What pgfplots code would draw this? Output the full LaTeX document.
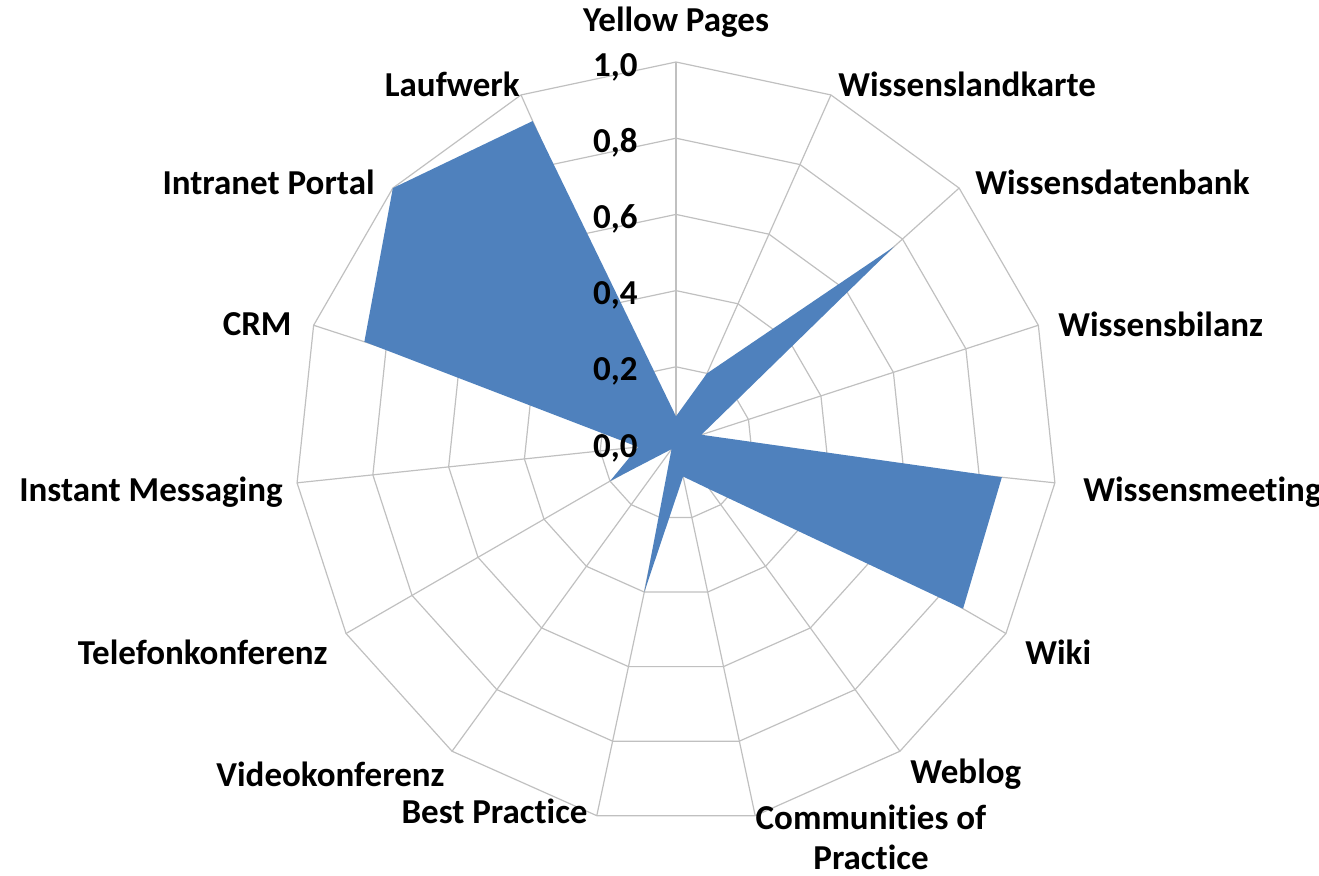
\documentclass[border=0pt]{standalone}
\usepackage{pgfplots}
\pgfplotsset{compat=1.18}
\usepgfplotslibrary{polar}
\usepackage{fontspec}
\setmainfont{Carlito}[Ligatures=NoCommon]
\definecolor{barblue}{RGB}{79,129,189}
\definecolor{gridgray}{RGB}{192,192,192}

\begin{document}
\begin{tikzpicture}[font=\fontsize{17.5}{20}\selectfont\bfseries]
\path[use as bounding box] (-338pt,-216pt) rectangle (321.5pt,221.5pt);
\begin{polaraxis}[
  at={(0,0)}, anchor=center,
  scale only axis, width=381pt, height=381pt,
  xmin=0, xmax=360, ymin=0, ymax=1,
  hide axis, clip=false]
% polygonal grid rings
\pgfplotsinvokeforeach{0.2,0.4,0.6,0.8,1.0}{
  \addplot[gridgray, line width=0.6pt, no marks] coordinates {(90,#1) (66,#1) (42,#1) (18,#1) (354,#1) (330,#1) (306,#1) (282,#1) (258,#1) (234,#1) (210,#1) (186,#1) (162,#1) (138,#1) (114,#1) (90,#1)};
}
% spokes
\pgfplotsinvokeforeach{90,66,42,18,354,330,306,282,258,234,210,186,162,138,114}{
  \addplot[gridgray, line width=0.6pt, no marks] coordinates {(#1,0) (#1,1)};
}
% data
\addplot[fill=barblue, draw=none, no marks] coordinates {
 (90,0.07)   % Yellow Pages
 (66,0.20)   % Wissenslandkarte
 (42,0.77)   % Wissensdatenbank
 (18,0.07)   % Wissensbilanz
 (354,0.86)  % Wissensmeeting
 (330,0.87)  % Wiki
 (306,0.15)  % Weblog
 (282,0.09)  % Communities of Practice
 (258,0.40)  % Best Practice
 (234,0.02)  % Videokonferenz
 (210,0.20)  % Telefonkonferenz
 (186,0.10)  % Instant Messaging
 (162,0.86)  % CRM
 (138,1.00)  % Intranet Portal
 (114,0.925) % Laufwerk
 (90,0.07)
};
% radial value labels
\begin{scope}[every node/.style={anchor=east, inner sep=0pt, xshift=-19pt, yshift=-2.5pt}]
\node at (axis cs:90,0.0) {0,0};
\node at (axis cs:90,0.2) {0,2};
\node at (axis cs:90,0.4) {0,4};
\node at (axis cs:90,0.6) {0,6};
\node at (axis cs:90,0.8) {0,8};
\node at (axis cs:90,1.0) {1,0};
\end{scope}
\end{polaraxis}
\begin{scope}[every node/.style={inner sep=0pt}]
\node[anchor=center] at (0pt,210.5pt) {Yellow Pages};
\node[anchor=east] at (-78pt,179.5pt) {Laufwerk};
\node[anchor=west] at (81pt,179.5pt) {Wissenslandkarte};
\node[anchor=east] at (-150.5pt,130.5pt) {Intranet Portal};
\node[anchor=west] at (149.5pt,130.5pt) {Wissensdatenbank};
\node[anchor=east] at (-192pt,59.5pt) {CRM};
\node[anchor=west] at (191pt,59.5pt) {Wissensbilanz};
\node[anchor=east] at (-196.5pt,-24.5pt) {Instant Messaging};
\node[anchor=west] at (203.5pt,-24.5pt) {Wissensmeeting};
\node[anchor=east] at (-174pt,-104.5pt) {Telefonkonferenz};
\node[anchor=west] at (174.5pt,-104.5pt) {Wiki};
\node[anchor=east] at (-115.5pt,-165.5pt) {Videokonferenz};
\node[anchor=west] at (117pt,-165.5pt) {Weblog};
\node[anchor=east] at (-44pt,-184pt) {Best Practice};
\node[anchor=center, align=center] at (97.5pt,-197pt) {Communities of\\Practice};
\end{scope}
\end{tikzpicture}
\end{document}
